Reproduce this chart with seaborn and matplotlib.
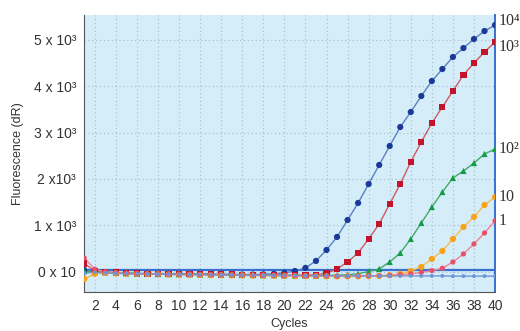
import matplotlib
matplotlib.use("Agg")
import matplotlib.pyplot as plt
import seaborn as sns
import pandas as pd

# cycles and fluorescence (dR) per dilution
cycles = list(range(1, 41))

fl_1e4 = [40, 10, -10, -20, -30, -30, -35, -40, -40, -40,
          -45, -45, -50, -50, -50, -55, -55, -50, -40, -20,
          20, 86, 237, 473, 753, 1118, 1484, 1892, 2301, 2710,
          3118, 3441, 3785, 4108, 4366, 4624, 4817, 5011, 5183, 5312]
fl_1e3 = [180, 20, 0, -10, -30, -35, -40, -40, -45, -40,
          -45, -50, -50, -55, -55, -60, -60, -60, -65, -70,
          -70, -70, -60, -30, 65, 215, 409, 710, 1032, 1462,
          1892, 2366, 2796, 3204, 3548, 3892, 4237, 4495, 4731, 4946]
fl_1e2 = [20, 0, -10, -20, -30, -35, -40, -45, -45, -50,
          -50, -55, -55, -60, -60, -65, -65, -70, -70, -75,
          -75, -80, -80, -75, -70, -60, -40, 10, 65, 215,
          409, 710, 1054, 1398, 1720, 2022, 2172, 2344, 2538, 2645]
fl_1e1 = [-150, -40, -20, -30, -40, -45, -50, -50, -55, -60,
          -60, -65, -70, -70, -75, -75, -80, -80, -85, -85,
          -90, -90, -90, -95, -95, -95, -95, -90, -85, -70,
          -40, 20, 108, 280, 452, 710, 968, 1183, 1441, 1613]
fl_1e0 = [300, 60, 0, -20, -30, -40, -45, -50, -50, -55,
          -55, -60, -60, -65, -65, -70, -70, -75, -75, -80,
          -80, -85, -85, -85, -90, -90, -85, -85, -80, -75,
          -60, -40, -10, 28, 80, 215, 387, 602, 839, 1100]
fl_ntc = [-20, -10, -20, -30, -35, -40, -45, -50, -50, -55,
          -55, -60, -60, -65, -65, -70, -70, -70, -75, -75,
          -75, -80, -80, -80, -80, -85, -85, -85, -85, -85,
          -85, -85, -85, -85, -85, -90, -90, -90, -90, -90]
threshold = 40

series_names = ["10\u2074", "10\u00b3", "10\u00b2", "10", "1", "NTC"]
series_vals = [fl_1e4, fl_1e3, fl_1e2, fl_1e1, fl_1e0, fl_ntc]
line_colors = ["#5c7fc6", "#cf5a63", "#46a866", "#f3bd55", "#ee8592", "#6f95d8"]
marker_colors = ["#1b3a98", "#c4142c", "#159a48", "#f7a21c", "#e8506a", "#6f95d8"]
marker_shapes = ["o", "s", "^", "o", "o", "o"]
marker_sizes = [20, 20, 20, 20, 14, 8]

df = pd.DataFrame({
    "cycle": cycles * len(series_names),
    "dR": [v for s in series_vals for v in s],
    "series": [n for n in series_names for _ in cycles],
})

sns.set_style("white")
plt.rcParams["font.family"] = ["Liberation Sans", "DejaVu Sans"]

fig = plt.figure(figsize=(5.2, 3.31), dpi=100)
ax = fig.add_axes([0.162, 0.118, 0.79, 0.837])
ax.set_facecolor("#d4edf8")

ax.axhline(threshold, color="#3a6fd0", lw=1.6, zorder=2)

sns.lineplot(data=df, x="cycle", y="dR", hue="series", hue_order=series_names,
             palette=line_colors, lw=1, legend=False, ax=ax, zorder=3)
for name, mc, mk, ms in zip(series_names, marker_colors, marker_shapes, marker_sizes):
    sub = df[df["series"] == name]
    sns.scatterplot(data=sub, x="cycle", y="dR", color=mc, marker=mk, s=ms,
                    edgecolor="none", legend=False, ax=ax, zorder=4)

ax.set_xlim(1, 40)
ax.set_ylim(-430, 5530)

ax.set_xticks(range(2, 41, 2))
ax.set_xticks(range(1, 41), minor=True)
ax.set_yticks([0, 1000, 2000, 3000, 4000, 5000])
ax.set_yticklabels(["0 x 10", "1 x 10\u00b3", "2 x10\u00b3", "3 x 10\u00b3",
                    "4 x 10\u00b3", "5 x 10\u00b3"])
ax.set_yticks([500, 1500, 2500, 3500, 4500], minor=True)
ax.tick_params(axis="both", which="both", direction="inout", length=4,
               width=0.8, color="#555555", labelsize=10, labelcolor="#333333")
ax.tick_params(axis="x", pad=3)
ax.tick_params(axis="y", pad=4)

ax.grid(True, which="major", color="#a9bcc6", ls=(0, (1, 2.5)), lw=0.8)

ax.spines["top"].set_visible(False)
ax.spines["left"].set_color("#555555")
ax.spines["bottom"].set_color("#555555")
ax.spines["right"].set_color("#3a6fd0")
ax.spines["right"].set_linewidth(1.4)

ax.set_xlabel("Cycles", fontsize=9, color="#333333", labelpad=4)
ax.set_ylabel("Fluorescence (dR)", fontsize=9, color="#333333", labelpad=7)

# right-hand end labels
for name, vals in zip(series_names[:5], series_vals[:5]):
    dy = {"10\u2074": 90, "10\u00b3": -110}.get(name, 0)
    ax.text(40.35, vals[-1] + dy, name, fontsize=11.5, va="center", ha="left",
            family=["Liberation Serif", "DejaVu Serif"], color="#333333",
            clip_on=False)

fig.savefig("out.png", dpi=100)
